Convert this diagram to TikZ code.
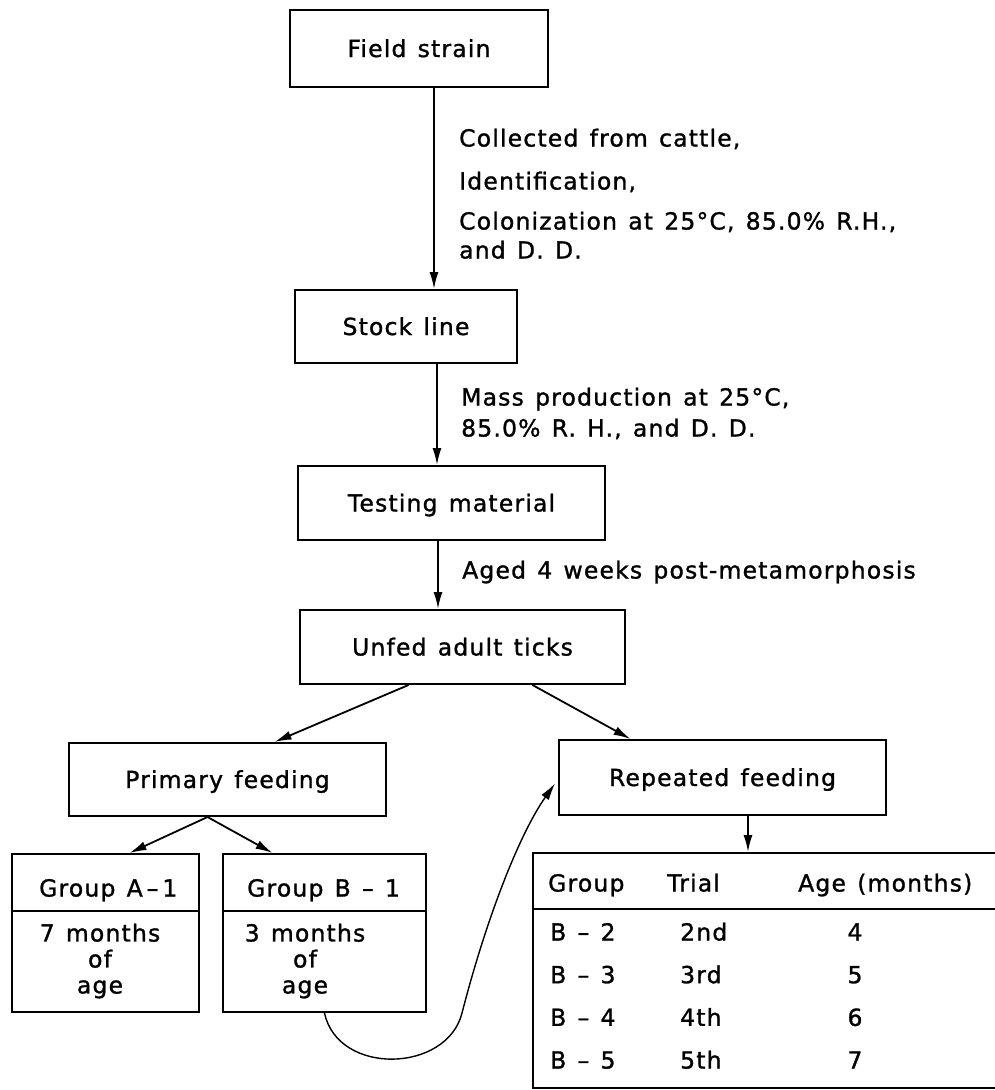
\documentclass[tikz,border=0pt]{standalone}
\usepackage{fontspec}
\setmainfont{DejaVu Sans}[LetterSpace=5, WordSpace=1.3, FakeBold=1.2]
\usetikzlibrary{arrows.meta,calc}

\begin{document}
\begin{tikzpicture}[x=1pt, y=-1pt,
		every node/.style={font=\fontsize{23.5}{26}\selectfont},
		txt/.style={text height=17pt, text depth=0pt},
		box/.style={draw, line width=2pt, inner sep=0pt, txt},
		note/.style={anchor=west, inner sep=0pt, txt},
		link/.style={-{Latex[length=17pt, width=9pt]}, line width=1.8pt}]
		\useasboundingbox (0,0) rectangle (995,1090);
		\clip (0,0) rectangle (995,1090);

		\node (field) at (419, 48.5) [box, minimum width=258pt, minimum height=77pt] {Field strain};
		\node (stock) at (406, 326.5) [box, minimum width=222pt, minimum height=73pt] {Stock line};
		\node (testing) at (451.5, 503) [box, minimum width=307pt, minimum height=74pt] {Testing material};
		\node (unfed) at (462.5, 647) [box, minimum width=325pt, minimum height=74pt] {Unfed adult ticks};
		\node (primary) at (227.5, 779.5) [box, minimum width=317pt, minimum height=73pt] {Primary feeding};
		\node (repeated) at (722.5, 777.5) [box, minimum width=327pt, minimum height=75pt] {Repeated feeding};
		\node (groupA) at (105.5, 933) [box, minimum width=187pt, minimum height=158pt] {};
		\node (groupB) at (324.5, 933) [box, minimum width=203pt, minimum height=158pt] {};
		\node (trials) at (769, 970.5) [box, minimum width=472pt, minimum height=235pt] {};

		\draw[line width=2pt] (groupA.west |- 0,911) -- (groupA.east |- 0,911);
		\draw[line width=2pt] (groupB.west |- 0,911) -- (groupB.east |- 0,911);
		\draw[line width=2pt] (trials.west |- 0,909) -- (trials.east |- 0,909);

		\node (collected) at (459, 138) [note] {Collected from cattle,};
		\node (ident) at (459, 181) [note] {Identification,};
		\node (colon) at (459, 221) [note] {Colonization at 25°C, 85.0\% R.H.,};
		\node (dd) at (459, 250) [note] {and D. D.};
		\node (mass) at (461, 397) [note] {Mass production at 25°C,};
		\node (rh) at (461, 428) [note] {85.0\% R. H., and D. D.};
		\node (aged) at (462, 570) [note] {Aged 4 weeks post-metamorphosis};

		\node (groupAhead) at (39, 888) [note] {Group A\,–\,1};
		\node (groupBhead) at (247, 888) [note] {Group B – 1};
		\node (groupAage) at (100, 961) [align=center] {7 months\\of\\age};
		\node (groupBage) at (305, 961) [align=center] {3 months\\of\\age};

		\node (hgroup) at (548, 883) [note] {Group};
		\node (htrial) at (667, 883) [note] {Trial};
		\node (hage) at (798, 883) [note] {Age (months)};
		\foreach \g/\t/\a [count=\i from 0] in {2/2nd/4, 3/3rd/5, 4/4th/6, 5/5th/7} {
			\node (grp\g) at (550, 932+42.67*\i) [note] {B – \g};
			\node (trial\g) at (680, 932+42.67*\i) [note] {\t};
			\node (age\g) at (855, 932+42.67*\i) [txt] {\a};
		}

		\draw[link] (field.south -| 434,0) -- (stock.north -| 434,0);
		\draw[link] (stock.south -| 437,0) -- (testing.north -| 437,0);
		\draw[link] (testing.south -| 438,0) -- (unfed.north -| 438,0);
		\draw[link] ($(unfed.south)+(-54,0)$) -- ($(primary.north)+(47,0)$);
		\draw[link] ($(unfed.south)+(70,0)$) -- ($(repeated.north)+(-92,0)$);
		\draw[link] ($(primary.south)+(-20,0)$) -- ($(groupA.north)+(24,0)$);
		\draw[link] ($(primary.south)+(-20,0)$) -- ($(groupB.north)+(-52,0)$);
		\draw[link] (repeated.south -| 748,0) -- (trials.north -| 748,0);
		\draw[link, line width=1.4pt] (groupB.south) .. controls (338,1076) and (447,1073) .. (462,1013) .. controls (487,916) and (520,833) .. ($(repeated.west)+(-3,6)$);
	\end{tikzpicture}
\end{document}
